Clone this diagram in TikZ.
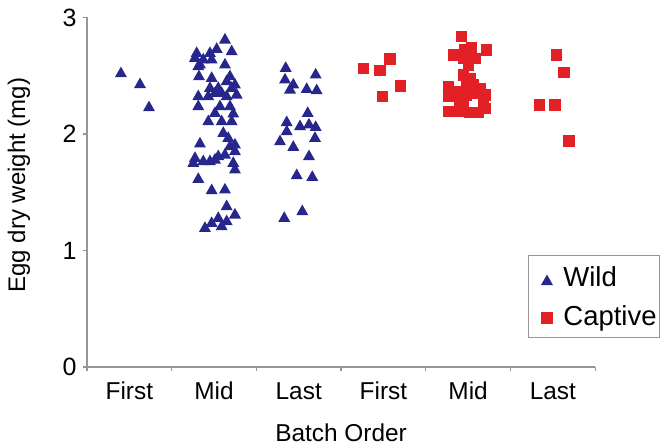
\documentclass[tikz,border=0pt]{standalone}
\usepackage{fontspec}
\setmainfont{Liberation Sans}
\definecolor{wildblue}{RGB}{38,38,140}
\definecolor{captred}{RGB}{226,32,38}
\definecolor{axisgray}{RGB}{150,150,150}
\newcommand{\wild}[2]{\fill[wildblue] (#1,#2) ++(-3pt,-2.6pt) -- ++(6pt,0pt) -- ++(-3pt,5.3pt) -- cycle;}
\newcommand{\capt}[2]{\fill[captred] (#1,#2) ++(-2.8pt,-2.8pt) rectangle ++(5.6pt,5.6pt);}
\newcommand{\cat}[3]{\node[catlabel] (#1) at (#2,-0.283) {#3};}

\begin{document}
\begin{tikzpicture}[
      x=42.35pt, y=58.25pt, %one batch, one mg
      axis/.style={axisgray, line width=0.6pt},
      catlabel/.style={anchor=base, inner sep=0pt, font=\fontsize{12.2}{14}\selectfont},
      ticklabel/.style={anchor=east, inner sep=0pt, font=\fontsize{12.5}{14}\selectfont},
      legendtext/.style={anchor=base west, inner sep=0pt, font=\fontsize{13.75}{16}\selectfont}
    ]
    \useasboundingbox (-0.527,-0.687) rectangle (7.289,3.150);
    % Axes and ticks
    \draw[axis] (0.5,3) -- (0.5,0) -- (6.5,0);
    \draw[axis] (0.5,0) -- ++(-2pt,0) (0.5,1) -- ++(-2pt,0) (0.5,2) -- ++(-2pt,0) (0.5,3) -- ++(-2pt,0);
    \draw[axis] (0.5,0) -- ++(0,-2pt) (1.5,0) -- ++(0,-2pt) (2.5,0) -- ++(0,-2pt)
                (3.5,0) -- ++(0,-2pt) (4.5,0) -- ++(0,-2pt) (5.5,0) -- ++(0,-2pt) (6.5,0) -- ++(0,-2pt);
    \node[ticklabel] (t0) at (0.382,0) {0};
    \node[ticklabel] (t1) at (0.382,1) {1};
    \node[ticklabel] (t2) at (0.382,2) {2};
    \node[ticklabel] (t3) at (0.382,3) {3};
    % Batch names
    \cat{wfirst}{1}{First}; \cat{wmid}{2}{Mid}; \cat{wlast}{3}{Last};
    \cat{cfirst}{4}{First}; \cat{cmid}{5}{Mid}; \cat{clast}{6}{Last};
    \node[catlabel, anchor=base] (xtitle) at (3.5,-0.644) {Batch Order};
    \node[rotate=90, inner sep=0pt, font=\fontsize{12}{14}\selectfont] (ytitle) at (-0.303,1.56) {Egg dry weight (mg)};
    % Wild, first batches
    \wild{0.901}{2.532}; \wild{1.126}{2.438}; \wild{1.232}{2.240};
    % Wild, mid batches
    \wild{2.129}{2.821}; \wild{2.031}{2.741}; \wild{2.208}{2.721}; \wild{1.795}{2.706};
    \wild{1.952}{2.706}; \wild{1.775}{2.664}; \wild{1.873}{2.650}; \wild{1.972}{2.650};
    \wild{1.834}{2.607}; \wild{2.129}{2.607}; \wild{1.814}{2.592}; \wild{1.822}{2.506};
    \wild{1.972}{2.492}; \wild{2.188}{2.506}; \wild{2.149}{2.464}; \wild{2.247}{2.435};
    \wild{1.952}{2.406}; \wild{2.050}{2.406}; \wild{2.208}{2.406}; \wild{2.011}{2.363};
    \wild{2.090}{2.363}; \wild{2.267}{2.349}; \wild{1.814}{2.335}; \wild{1.932}{2.335};
    \wild{2.149}{2.335}; \wild{1.814}{2.249}; \wild{2.070}{2.249}; \wild{2.188}{2.249};
    \wild{2.011}{2.191}; \wild{2.227}{2.186}; \wild{1.932}{2.120}; \wild{2.090}{2.120};
    \wild{2.208}{2.120}; \wild{2.109}{2.020}; \wild{2.168}{1.977}; \wild{1.834}{1.929};
    \wild{2.247}{1.920}; \wild{2.188}{1.906}; \wild{2.247}{1.863}; \wild{1.775}{1.805};
    \wild{2.050}{1.820}; \wild{2.129}{1.834}; \wild{1.873}{1.777}; \wild{1.952}{1.777};
    \wild{2.011}{1.791}; \wild{1.755}{1.762}; \wild{2.227}{1.762}; \wild{2.247}{1.706};
    \wild{1.814}{1.625}; \wild{1.972}{1.528}; \wild{2.129}{1.534}; \wild{2.149}{1.391};
    \wild{2.247}{1.319}; \wild{2.050}{1.290}; \wild{1.972}{1.247}; \wild{2.149}{1.262};
    \wild{2.090}{1.219}; \wild{1.893}{1.204};
    % Wild, last batches
    \wild{2.846}{2.578}; \wild{3.200}{2.521}; \wild{2.838}{2.478}; \wild{2.936}{2.435};
    \wild{2.897}{2.392}; \wild{3.094}{2.397}; \wild{3.212}{2.386}; \wild{3.106}{2.191};
    \wild{2.858}{2.112}; \wild{2.858}{2.034}; \wild{3.015}{2.077}; \wild{3.121}{2.092};
    \wild{3.200}{2.071}; \wild{2.779}{1.948}; \wild{3.192}{1.977}; \wild{2.936}{1.900};
    \wild{3.121}{1.820}; \wild{2.976}{1.657}; \wild{3.160}{1.642}; \wild{2.829}{1.290};
    \wild{3.042}{1.348};
    % Captive, first batches
    \capt{3.762}{2.564}; \capt{3.959}{2.543}; \capt{4.077}{2.644}; \capt{4.204}{2.412};
    \capt{3.991}{2.320};
    % Captive, mid batches
    \capt{4.924}{2.835}; \capt{5.042}{2.741}; \capt{5.219}{2.721}; \capt{4.963}{2.721};
    \capt{4.825}{2.678}; \capt{4.943}{2.650}; \capt{5.081}{2.650}; \capt{5.002}{2.592};
    \capt{4.943}{2.506}; \capt{5.022}{2.478}; \capt{4.766}{2.406}; \capt{4.983}{2.421};
    \capt{5.061}{2.421}; \capt{5.140}{2.392}; \capt{4.884}{2.363}; \capt{5.199}{2.335};
    \capt{4.766}{2.320}; \capt{4.904}{2.292}; \capt{5.179}{2.277}; \capt{4.943}{2.249};
    \capt{4.766}{2.191}; \capt{4.904}{2.191}; \capt{5.022}{2.186}; \capt{5.120}{2.186};
    \capt{5.199}{2.221}; \capt{5.101}{2.349}; \capt{4.983}{2.335};
    % Captive, last batches
    \capt{6.045}{2.678}; \capt{6.132}{2.526}; \capt{5.840}{2.249}; \capt{6.025}{2.249};
    \capt{6.191}{1.940};
    % Legend
    \draw[axisgray, line width=0.5pt] (5.707,0.249) rectangle (7.265,0.961);
    \wild{5.931}{0.747}; \capt{5.931}{0.421};
    \node[legendtext] (wildtxt) at (6.12,0.687) {Wild};
    \node[legendtext] (capttxt) at (6.12,0.352) {Captive};
\end{tikzpicture}
\end{document}
